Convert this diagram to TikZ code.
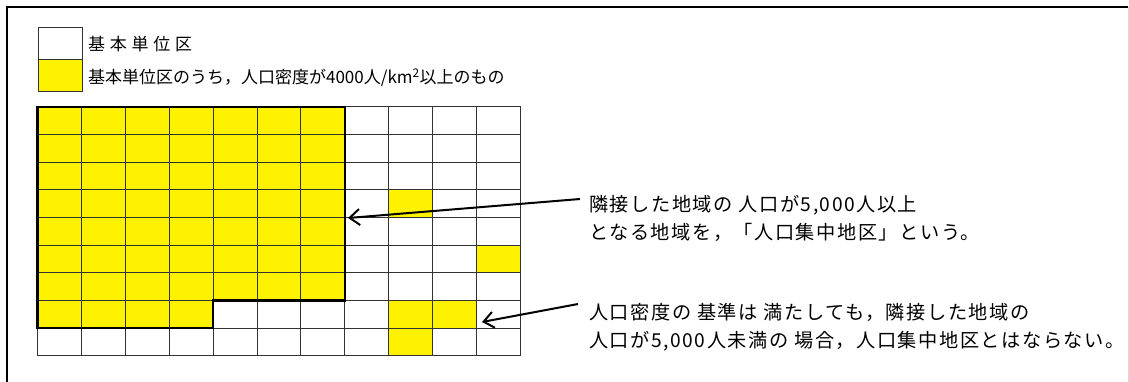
\documentclass[tikz,border=0pt]{standalone}
\usepackage{fontspec}
\newfontfamily\jpfont[LetterSpace=8]{Noto Sans CJK JP}
\newfontfamily\jptightfont{Noto Sans CJK JP}
\newfontfamily\jpwidefont[LetterSpace=28]{Noto Sans CJK JP}
\usetikzlibrary{arrows.meta,positioning}

\begin{document}
\begin{tikzpicture}
        [x=1pt, y=-1pt,
        cell/.style={draw=black!80, line width=0.9pt},
        keybox/.style={cell, minimum width=44pt, minimum height=32pt, inner sep=0pt, anchor=north west},
        outline/.style={black, line width=2.2pt, line join=miter},
        label/.style={anchor=west, inner sep=0pt, align=left, font=\jptightfont\fontsize{17}{27}\selectfont},
        note/.style={label, font=\jpfont\fontsize{19.2}{27.5}\selectfont},
        pointer/.style={-{Straight Barb[length=10pt, width=16pt, line width=2pt]}, line width=2pt, black}]

        \useasboundingbox (0,0) rectangle (1129,381);

        % frame (bottom runs off the page)
        \draw[line width=2pt] (7,395) -- (7,7) -- (1128,7);
        \draw[black!15, line width=1pt] (1128,7) -- (1128,395);

        % legend
        \node[keybox] (keyplain) at (38,27) {};
        \node[keybox, fill=yellow] (keydense) at (38,59) {};
        \node[label, right=5pt of keyplain, yshift=-1pt, font=\jpwidefont\fontsize{17}{27}\selectfont] (textplain) {基本単位区};
        \node[label, right=5pt of keydense, yshift=-2pt] (textdense) {基本単位区のうち，人口密度が4000人/km\textsuperscript{2}以上のもの};

        % yellow cells: the big block and the scattered ones
        \fill[yellow] (37.5,106.7) rectangle (344.8,300.4);
        \fill[yellow] (37.5,300.4) rectangle (213.1,328.1);
        \foreach \c/\r in {8/3, 10/5, 8/7, 9/7, 8/8}
            \fill[yellow] (37.5+43.9*\c, 106.7+27.67*\r) rectangle ++(43.9,27.67);

        % the 11 x 9 grid of basic units
        \foreach \c in {0,...,10}
            \foreach \r in {0,...,8}
                \draw[cell] (37.5+43.9*\c, 106.7+27.67*\r) rectangle ++(43.9,27.67);

        % densely inhabited district
        \draw[outline] (37.5,106.7) -- (344.8,106.7) -- (344.8,300.4) -- (213.1,300.4)
                -- (213.1,328.1) -- (37.5,328.1) -- cycle;

        % notes
        \node[note] (noteyes) at (589,218.5) {隣接した地域の 人口が5,000人以上\\となる地域を，「人口集中地区」という。};
        \node[note] (noteno) at (589,327) {人口密度の 基準は 満たしても，隣接した地域の\\人口が5,000人未満の 場合，人口集中地区とはならない。};

        \coordinate (tailyes) at (580,199);
        \coordinate (tipyes) at (348,218);
        \coordinate (tailno) at (578,304);
        \coordinate (tipno) at (482,322);
        \draw[pointer] (tailyes) -- (tipyes);
        \draw[pointer] (tailno) -- (tipno);

    \end{tikzpicture}
\end{document}
